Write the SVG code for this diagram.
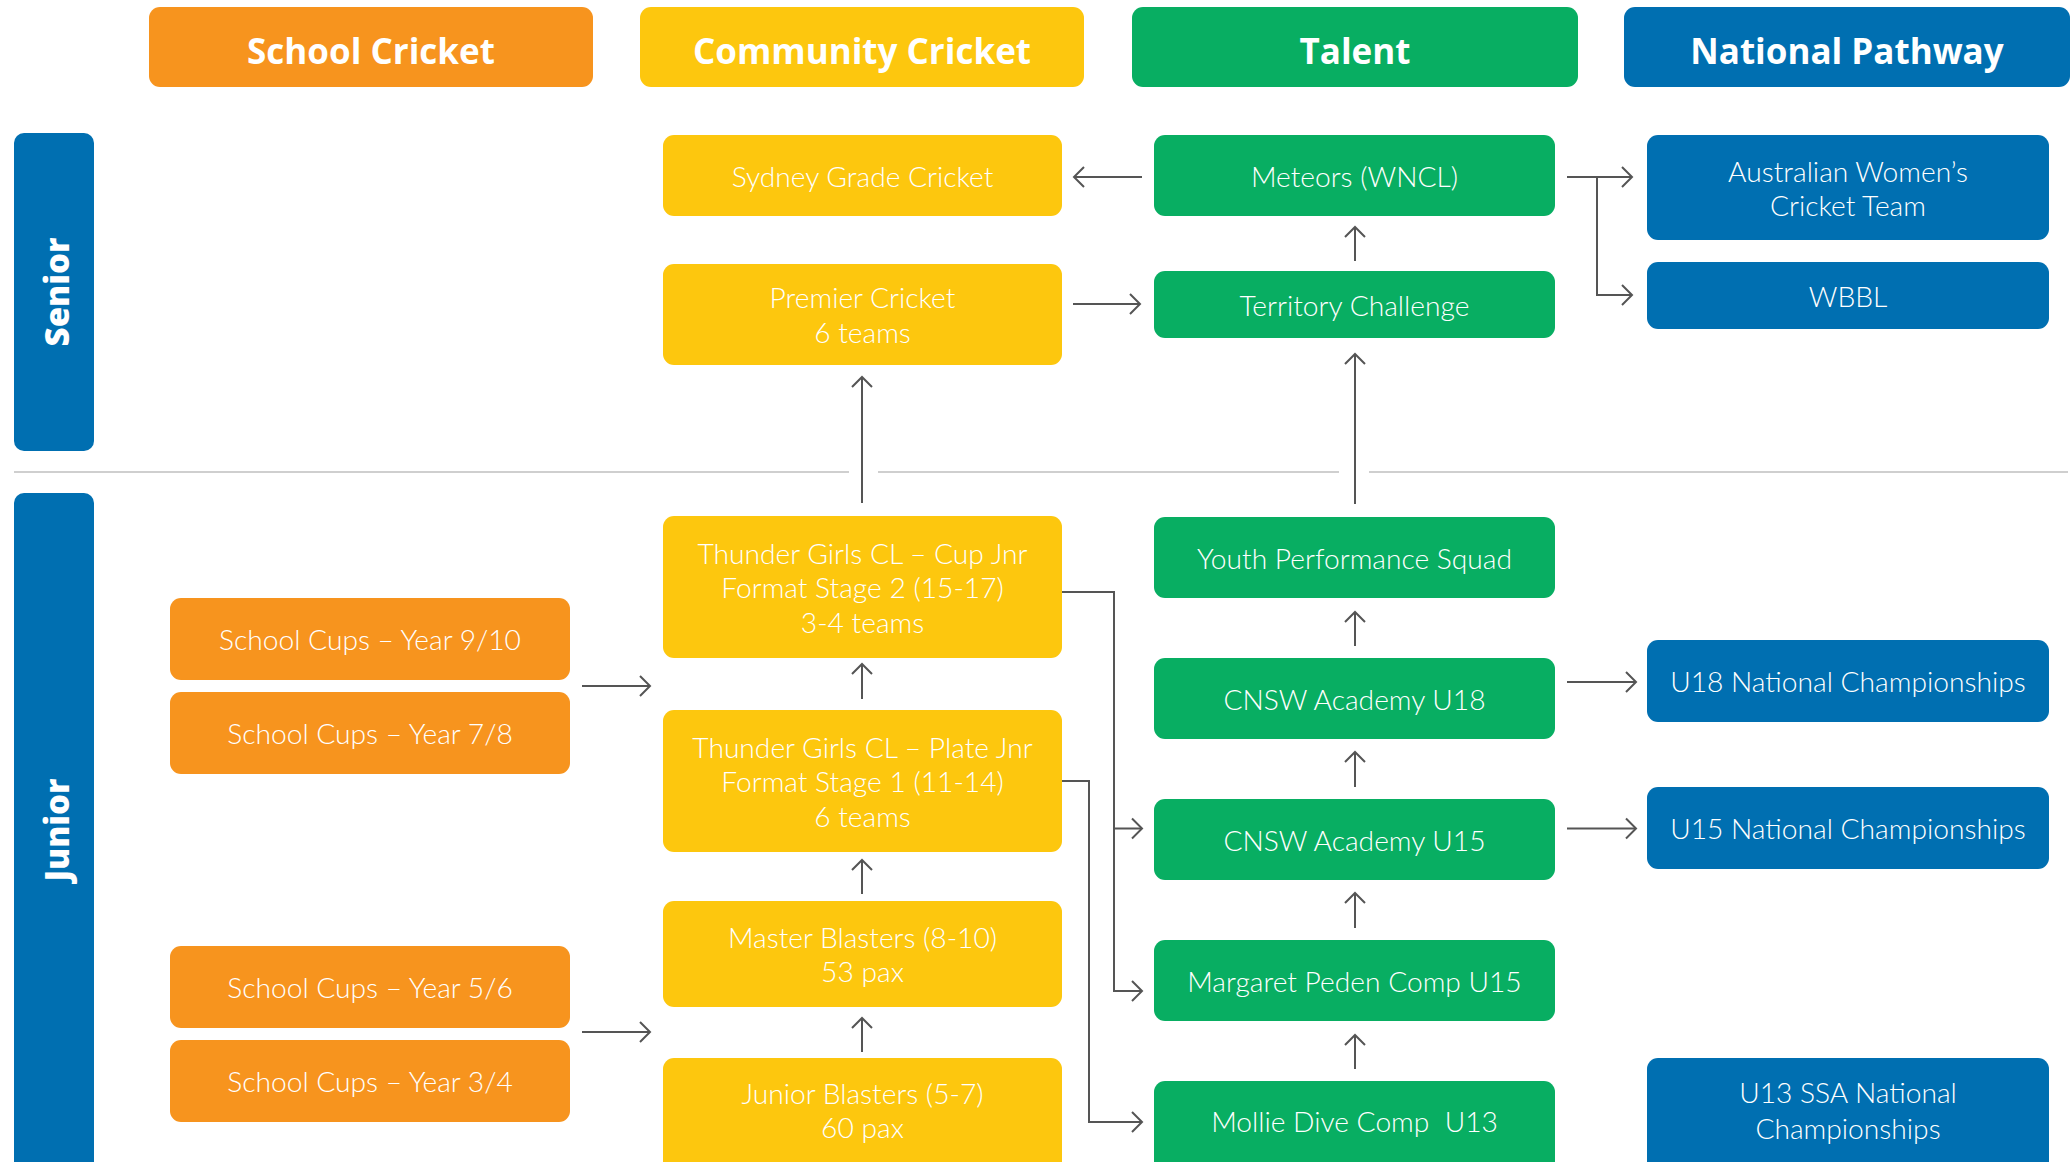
<svg xmlns="http://www.w3.org/2000/svg" width="2072" height="1162" viewBox="0 0 2072 1162">
<defs>
<marker id="arr" markerUnits="userSpaceOnUse" viewBox="-12 -12 14 24" refX="0" refY="0" markerWidth="14" markerHeight="24" orient="auto">
<path d="M-10,-10 L0,0 L-10,10" fill="none" stroke="#555" stroke-width="2"/>
</marker>
</defs>
<style>
.hd{font-family:"Open Sans","Liberation Sans",sans-serif;font-weight:700;font-size:35px;fill:#fff;text-anchor:middle;dominant-baseline:central}
.ln{font-family:"Open Sans","Liberation Sans",sans-serif;font-weight:800;font-size:33px;fill:#fff;text-anchor:middle;dominant-baseline:central}
.t{font-family:"Lato","Liberation Sans",sans-serif;font-weight:300;font-size:28.2px;fill:#fff;text-anchor:middle;dominant-baseline:central}
.or{fill:#F7941E}.ye{fill:#FDC70E}.gr{fill:#08AE62}.bl{fill:#006FB1}
.c{fill:none;stroke:#555;stroke-width:2;marker-end:url(#arr)}
.sep{stroke:#cfcfcf;stroke-width:2}
</style>
<rect width="2072" height="1162" fill="#fff"/>

<g id="separator">
<line class="sep" x1="14" y1="472" x2="849" y2="472"/>
<line class="sep" x1="878" y1="472" x2="1339" y2="472"/>
<line class="sep" x1="1369" y1="472" x2="2068" y2="472"/>
</g>

<g id="hdr-school"><rect class="or" x="149" y="7" width="444" height="80" rx="11"/><text class="hd" x="371" y="50">School Cricket</text></g>
<g id="hdr-community"><rect class="ye" x="640" y="7" width="444" height="80" rx="11"/><text class="hd" x="862" y="50">Community Cricket</text></g>
<g id="hdr-talent"><rect class="gr" x="1132" y="7" width="446" height="80" rx="11"/><text class="hd" x="1355" y="50">Talent</text></g>
<g id="hdr-national"><rect class="bl" x="1624" y="7" width="446" height="80" rx="11"/><text class="hd" x="1847" y="50">National Pathway</text></g>

<g id="lane-senior"><rect class="bl" x="14" y="133" width="80" height="318" rx="10"/><text class="ln" transform="translate(56,292) rotate(-90)">Senior</text></g>
<g id="lane-junior"><rect class="bl" x="14" y="493" width="80" height="700" rx="10"/><text class="ln" transform="translate(56,830) rotate(-90)">Junior</text></g>

<g id="sydney-grade"><rect class="ye" x="663" y="135" width="399" height="81" rx="11"/><text class="t" x="862.5" y="175.5">Sydney Grade Cricket</text></g>
<g id="premier"><rect class="ye" x="663" y="264" width="399" height="101" rx="11"/><text class="t" x="862.5" y="297">Premier Cricket</text><text class="t" x="862.5" y="332">6 teams</text></g>
<g id="thunder-cup"><rect class="ye" x="663" y="516" width="399" height="142" rx="11"/><text class="t" x="862.5" y="552.5">Thunder Girls CL – Cup Jnr</text><text class="t" x="862.5" y="587">Format Stage 2 (15-17)</text><text class="t" x="862.5" y="621.5">3-4 teams</text></g>
<g id="thunder-plate"><rect class="ye" x="663" y="710" width="399" height="142" rx="11"/><text class="t" x="862.5" y="746.5">Thunder Girls CL – Plate Jnr</text><text class="t" x="862.5" y="781">Format Stage 1 (11-14)</text><text class="t" x="862.5" y="815.5">6 teams</text></g>
<g id="master-blasters"><rect class="ye" x="663" y="901" width="399" height="106" rx="11"/><text class="t" x="862.5" y="937">Master Blasters (8-10)</text><text class="t" x="862.5" y="971">53 pax</text></g>
<g id="junior-blasters"><rect class="ye" x="663" y="1058" width="399" height="130" rx="11"/><text class="t" x="862.5" y="1093">Junior Blasters (5-7)</text><text class="t" x="862.5" y="1127">60 pax</text></g>

<g id="meteors"><rect class="gr" x="1154" y="135" width="401" height="81" rx="11"/><text class="t" x="1354.5" y="175.5">Meteors (WNCL)</text></g>
<g id="territory"><rect class="gr" x="1154" y="271" width="401" height="67" rx="11"/><text class="t" x="1354.5" y="304.5">Territory Challenge</text></g>
<g id="youth"><rect class="gr" x="1154" y="517" width="401" height="81" rx="11"/><text class="t" x="1354.5" y="557.5">Youth Performance Squad</text></g>
<g id="cnsw-u18"><rect class="gr" x="1154" y="658" width="401" height="81" rx="11"/><text class="t" x="1354.5" y="698.5">CNSW Academy U18</text></g>
<g id="cnsw-u15"><rect class="gr" x="1154" y="799" width="401" height="81" rx="11"/><text class="t" x="1354.5" y="839.5">CNSW Academy U15</text></g>
<g id="margaret-peden"><rect class="gr" x="1154" y="940" width="401" height="81" rx="11"/><text class="t" x="1354.5" y="980.5">Margaret Peden Comp U15</text></g>
<g id="mollie-dive"><rect class="gr" x="1154" y="1081" width="401" height="110" rx="11"/><text class="t" x="1354.5" y="1121" xml:space="preserve">Mollie Dive Comp  U13</text></g>

<g id="awct"><rect class="bl" x="1647" y="135" width="402" height="105" rx="11"/><text class="t" x="1848" y="171">Australian Women’s</text><text class="t" x="1848" y="205">Cricket Team</text></g>
<g id="wbbl"><rect class="bl" x="1647" y="262" width="402" height="67" rx="11"/><text class="t" x="1848" y="295.5">WBBL</text></g>
<g id="u18-nc"><rect class="bl" x="1647" y="640" width="402" height="82" rx="11"/><text class="t" x="1848" y="681">U18 National Championships</text></g>
<g id="u15-nc"><rect class="bl" x="1647" y="787" width="402" height="82" rx="11"/><text class="t" x="1848" y="828">U15 National Championships</text></g>
<g id="u13-ssa"><rect class="bl" x="1647" y="1058" width="402" height="130" rx="11"/><text class="t" x="1848" y="1092">U13 SSA National</text><text class="t" x="1848" y="1128">Championships</text></g>

<g id="school-910"><rect class="or" x="170" y="598" width="400" height="82" rx="11"/><text class="t" x="370" y="639">School Cups – Year 9/10</text></g>
<g id="school-78"><rect class="or" x="170" y="692" width="400" height="82" rx="11"/><text class="t" x="370" y="733">School Cups – Year 7/8</text></g>
<g id="school-56"><rect class="or" x="170" y="946" width="400" height="82" rx="11"/><text class="t" x="370" y="987">School Cups – Year 5/6</text></g>
<g id="school-34"><rect class="or" x="170" y="1040" width="400" height="82" rx="11"/><text class="t" x="370" y="1081">School Cups – Year 3/4</text></g>

<g id="connectors">
<path class="c" d="M1142,177 H1074"/>
<path class="c" d="M1073,304 H1140"/>
<path class="c" d="M1355,261 V227"/>
<path class="c" d="M1567,177 H1632"/>
<path class="c" d="M1597,177 V295 H1632"/>
<path class="c" d="M862,503 V377"/>
<path class="c" d="M1355,504 V354"/>
<path class="c" d="M582,686 H650"/>
<path class="c" d="M582,1032 H650"/>
<path class="c" d="M862,699 V664"/>
<path class="c" d="M862,894 V860"/>
<path class="c" d="M862,1052 V1018"/>
<path class="c" d="M1355,646 V612"/>
<path class="c" d="M1355,787 V752"/>
<path class="c" d="M1355,928 V893"/>
<path class="c" d="M1355,1069 V1035"/>
<path class="c" d="M1567,682 H1636"/>
<path class="c" d="M1567,828.5 H1636"/>
<path class="c" d="M1062,592 H1114 V828.5 H1142"/>
<path class="c" d="M1114,828.5 V991 H1142"/>
<path class="c" d="M1062,781 H1089 V1122 H1142"/>
</g>
</svg>
